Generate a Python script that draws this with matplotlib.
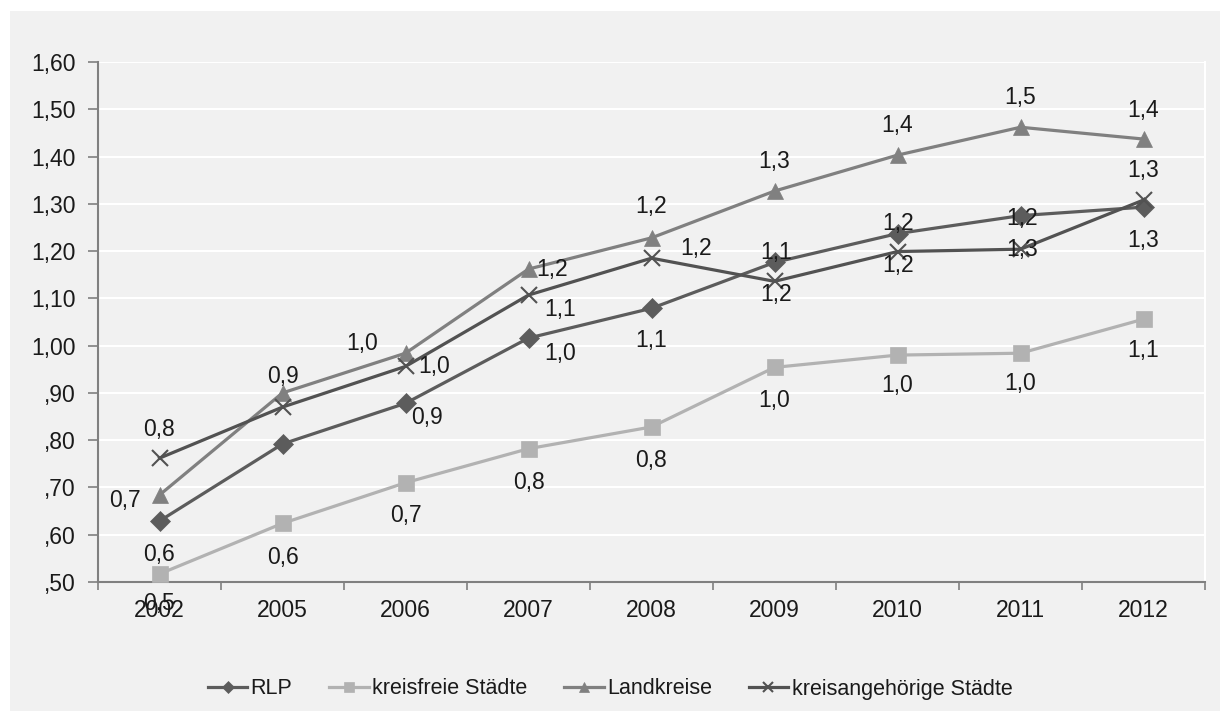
import matplotlib
matplotlib.use("Agg")
import matplotlib.pyplot as plt
from matplotlib.patches import Rectangle
from matplotlib.ticker import FixedLocator

years = ["2002", "2005", "2006", "2007", "2008", "2009", "2010", "2011", "2012"]

rlp = [0.629, 0.792, 0.878, 1.016, 1.079, 1.176, 1.237, 1.275, 1.293]
kreisfrei = [0.517, 0.624, 0.710, 0.782, 0.828, 0.954, 0.980, 0.984, 1.056]
landkreise = [0.684, 0.900, 0.984, 1.162, 1.228, 1.327, 1.403, 1.462, 1.437]
kreisang = [0.762, 0.870, 0.956, 1.107, 1.185, 1.136, 1.199, 1.204, 1.308]

# data labels as shown in the chart (None = no label)
rlp_labels = ["0,6", None, "0,9", "1,0", "1,1", "1,1", "1,2", "1,2", "1,3"]
kreisfrei_labels = ["0,5", "0,6", "0,7", "0,8", "0,8", "1,0", "1,0", "1,0", "1,1"]
landkreise_labels = ["0,7", "0,9", "1,0", "1,2", "1,2", "1,3", "1,4", "1,5", "1,4"]
kreisang_labels = ["0,8", None, "1,0", "1,1", "1,2", "1,2", "1,2", "1,3", "1,3"]

yticks = [0.5, 0.6, 0.7, 0.8, 0.9, 1.0, 1.1, 1.2, 1.3, 1.4, 1.5, 1.6]
ytick_labels = [",50", ",60", ",70", ",80", ",90", "1,00", "1,10", "1,20", "1,30", "1,40", "1,50", "1,60"]

# label offsets in pixels (dx, dy), dy positive = down
rlp_off = [(0, 33), None, (22, 14), (32, 15), (0, 32), (2, -10), (1, -10), (2, 3), (0, 33)]
kreisfrei_off = [(0, 30), (0, 34), (0, 33), (0, 34), (0, 34), (0, 33), (0, 30), (0, 30), (0, 31)]
landkreise_off = [(-35, 5), (0, -16), (-43, -10), (24, 0), (0, -31), (0, -30), (0, -30), (0, -30), (0, -29)]
kreisang_off = [(0, -29), None, (29, 0), (32, 14), (45, -10), (2, 13), (1, 14), (2, 0), (0, -30)]

plt.rcParams["font.family"] = ["Liberation Sans", "DejaVu Sans"]
bg = "#f1f1f1"

fig = plt.figure(figsize=(12.2, 7.11), dpi=100, facecolor="white")
fig.patches.append(Rectangle((10 / 1220, 0), 1 - 10 / 1220, 1 - 11 / 711,
                             transform=fig.transFigure, facecolor=bg, edgecolor="none", zorder=-10))

ax = fig.add_axes([98 / 1220, 1 - 582 / 711, (1205 - 98) / 1220, (582 - 62) / 711])
ax.set_facecolor(bg)

x = list(range(len(years)))
series = [
    ("RLP", rlp, rlp_labels, rlp_off, "#5c5c5c", "D", 10),
    ("kreisfreie Städte", kreisfrei, kreisfrei_labels, kreisfrei_off, "#b2b2b2", "s", 12),
    ("Landkreise", landkreise, landkreise_labels, landkreise_off, "#808080", "^", 11.5),
    ("kreisangehörige Städte", kreisang, kreisang_labels, kreisang_off, "#525252", "x", 12),
]

for name, vals, labels, offs, col, mk, ms in series:
    ax.plot(x, vals, color=col, lw=2.3, marker=mk, markersize=ms,
            markeredgewidth=1.5 if mk == "x" else 0.5, markeredgecolor=col,
            label=name, zorder=3)
    for i, (v, lab) in enumerate(zip(vals, labels)):
        if lab is None:
            continue
        dx, dy = offs[i]
        ax.annotate(lab, (i, v), xytext=(dx, -dy), textcoords="offset pixels",
                    ha="center", va="center", fontsize=16.5, color="#1a1a1a", zorder=5)

ax.set_xlim(-0.5, len(years) - 0.5)
ax.set_ylim(0.5, 1.6)
ax.set_yticks(yticks)
ax.set_yticklabels(ytick_labels)
ax.set_xticks(x)
ax.set_xticklabels(years)
ax.xaxis.set_minor_locator(FixedLocator([i - 0.5 for i in range(len(years) + 1)]))
ax.tick_params(axis="x", which="major", length=0, pad=12, labelsize=16.5, colors="#1a1a1a")
ax.tick_params(axis="x", which="minor", length=6, width=1.2, color="#808080", direction="out")
ax.tick_params(axis="y", length=7, width=1.2, color="#808080", pad=9, labelsize=16.5, labelcolor="#1a1a1a")

ax.grid(axis="y", color="white", lw=1.5, zorder=1)
ax.set_axisbelow(True)
for side in ["left", "bottom"]:
    ax.spines[side].set_color("#808080")
    ax.spines[side].set_linewidth(1.5)
ax.spines["right"].set_color("white")
ax.spines["right"].set_linewidth(1.5)
ax.spines["top"].set_visible(False)

leg = fig.legend(loc="center", bbox_to_anchor=(0.5, 1 - 689 / 711), ncol=4, frameon=False,
                 prop={"size": 15.5}, handlelength=1.85, handletextpad=0.15,
                 columnspacing=1.7, markerscale=0.65)
for t in leg.get_texts():
    t.set_color("#1a1a1a")

fig.savefig("out.png", dpi=100, facecolor="white")
